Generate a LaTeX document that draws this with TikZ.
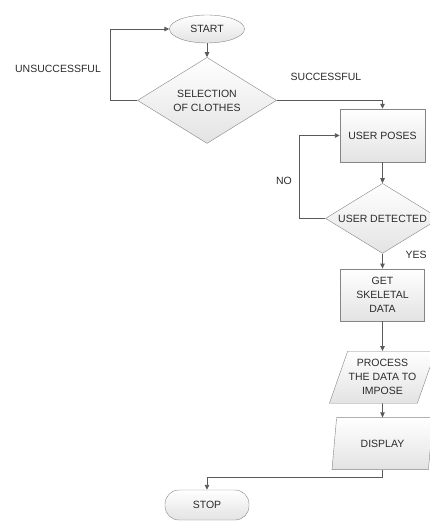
\documentclass[tikz,border=0pt]{standalone}
\usepackage{fontspec}
\setmainfont{Liberation Sans}
\usetikzlibrary{positioning,arrows.meta,shapes.geometric}
\definecolor{cline}{HTML}{5A5A5A}
\definecolor{cedge}{HTML}{858585}
\definecolor{ctext}{HTML}{2B2B2B}
\tikzset{
  base/.style={draw=cedge, top color=white, bottom color=gray!22, text=ctext,
               align=center, inner sep=1pt, font=\fontsize{10.5}{14}\selectfont},
  term/.style={base, ellipse, minimum width=75pt, minimum height=28pt},
  stopbox/.style={base, rectangle, rounded corners=14pt, minimum width=84pt, minimum height=30pt},
  box/.style={base, rectangle, minimum width=85pt, minimum height=53pt},
  decision/.style={base, diamond, aspect=1.6, inner sep=0pt},
  io/.style={base, trapezium, trapezium left angle=64, trapezium right angle=116,
             trapezium stretches body, minimum width=101pt, minimum height=52pt},
  lbl/.style={text=ctext, font=\fontsize{10.5}{14}\selectfont},
  flow/.style={-{Triangle[length=5pt,width=4.5pt]}, draw=cline, line width=0.9pt}
}
\begin{document}
\begin{tikzpicture}[x=1pt,y=1pt]
\useasboundingbox (0,0) rectangle (430,-521);
\clip (0,0) rectangle (430,-521);
\node[term] (start) at (207,-29) {START};
\node[decision, minimum width=139pt, minimum height=86pt, below=14pt of start] (sel) {SELECTION\\OF CLOTHES};
\node[box] (poses) at (382.5,-135.5) {USER POSES};
\node[decision, minimum width=114pt, minimum height=70pt, below=21pt of poses] (det) {\makebox[0pt]{USER DETECTED}};
\node[box, minimum width=84pt, minimum height=52pt, below=15pt of det] (get) {GET\\SKELETAL\\DATA};
\node[io, below=30pt of get] (proc) {PROCESS\\THE DATA TO\\IMPOSE};
\node[io, below=14pt of proc] (disp) {DISPLAY};
\node[stopbox] (stop) at (207,-505) {STOP};
\node[lbl] (unsucc) at (58,-69) {UNSUCCESSFUL};
\node[lbl] (succ) at (326,-77) {SUCCESSFUL};
\node[lbl] (no) at (284,-181) {NO};
\node[lbl] (yes) at (416,-255) {YES};
% connectors
\draw[flow] (start) -- (sel);
\draw[flow] (sel.west) -- ++(-27,0) |- (start.west);
\draw[flow] (sel.east) -| (poses.north);
\draw[flow] (poses) -- (det);
\draw[flow] (det.west) -- ++(-26,0) |- (poses.west);
\draw[flow] (det) -- (get);
\draw[flow] (get) -- (proc);
\draw[flow] (proc) -- (disp);
\draw[flow] (disp.south) -- ++(0,-8) -| (stop.north);
\end{tikzpicture}
\end{document}
